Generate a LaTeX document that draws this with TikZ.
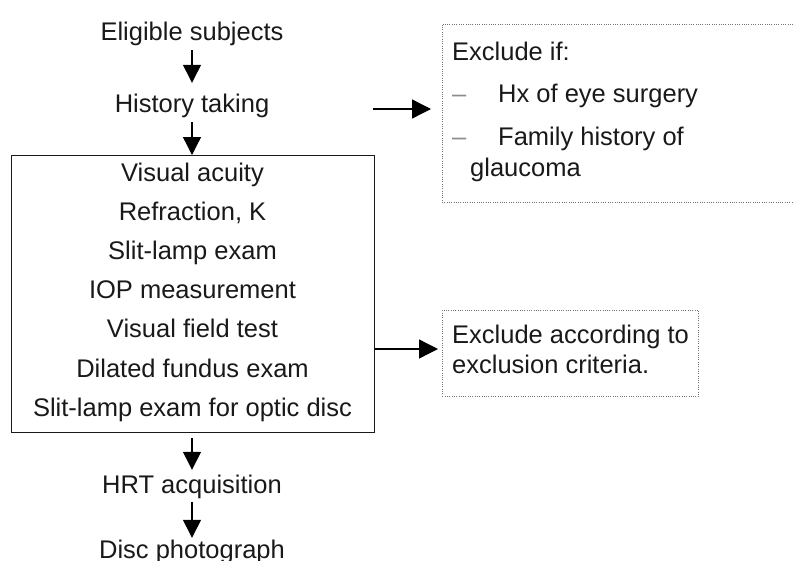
\documentclass[tikz,border=0pt]{standalone}
\usepackage{fontspec}
\setmainfont{Liberation Sans}
\usetikzlibrary{arrows.meta,calc}
\tikzset{
  lbl/.style={inner sep=0pt, text height=18pt, text depth=5pt, font=\fontsize{25.5}{30}\selectfont, text=black!90},
  arr/.style={line width=1.3pt, -{Triangle[length=18pt,width=18pt]}, shorten <=5pt, shorten >=5pt},
  harr/.style={line width=1.3pt, -{Triangle[length=19pt,width=19pt]}},
  dotline/.style={draw=black!55, line width=0.9pt, dash pattern=on 0.9pt off 1.4pt},
  mainbox/.style={draw=black!90, line width=1.4pt, inner sep=0pt},
  dashmark/.style={lbl, text=black!45}
}
\begin{document}
\begin{tikzpicture}[x=1pt,y=-1pt]
\useasboundingbox (0,0) rectangle (793,560);
% left column
\node[lbl, anchor=base] (elig) at (192,40) {Eligible subjects};
\node[lbl, anchor=base] (hist) at (192,112) {History taking};
\node[mainbox, minimum width=363pt, minimum height=277pt, anchor=north west] (box) at (11,155) {};
\foreach \t [count=\i from 0] in {Visual acuity,{Refraction, K},Slit-lamp exam,IOP measurement,Visual field test,Dilated fundus exam,Slit-lamp exam for optic disc}{
  \node[lbl, anchor=base] (m\i) at (192.5,{181+39.2*\i}) {\t};
}
\node[lbl, anchor=base] (hrt) at (192,493) {HRT acquisition};
\node[lbl, anchor=base] (disc) at (192,558) {Disc photograph};
\draw[arr, shorten >=11pt] (elig.south) -- (hist.north);
\draw[arr, shorten >=0pt] (hist.south) -- (hist.south |- box.north);
\draw[arr] (hrt.north |- box.south) -- (hrt.north);
\draw[arr, shorten <=4pt, shorten >=2pt] (hrt.south) -- (disc.north);
% right box 1 (open to the right)
\coordinate (b1tr) at (793,24);
\coordinate (b1tl) at (442,24);
\coordinate (b1bl) at (442,202);
\coordinate (b1br) at (793,202);
\draw[dotline] (b1tr) -- (b1tl) -- (b1bl) -- (b1br);
\node[lbl, anchor=base west] (ex1) at (452,60) {Exclude if:};
\node[dashmark, anchor=base west] (d1) at (452,102) {–};
\node[lbl, anchor=base west] (hx) at (498,102) {Hx of eye surgery};
\node[dashmark, anchor=base west] (d2) at (452,145) {–};
\node[lbl, anchor=base west] (fam) at (498,145) {Family history of};
\node[lbl, anchor=base west] (gl) at (470,176) {glaucoma};
\coordinate (a1) at (373,109);
\draw[harr, shorten >=11pt] (a1) -- (b1tl |- a1);
% right box 2
\node[dotline, minimum width=256pt, minimum height=86pt, anchor=north west, inner sep=0pt] (box2) at (442,310) {};
\node[lbl, anchor=base west] (ex2) at (452,343) {Exclude according to};
\node[lbl, anchor=base west] (ex3) at (452,373) {exclusion criteria.};
\coordinate (a2) at (0,349);
\draw[harr, shorten >=4pt] (box.east |- a2) -- (box2.west |- a2);
\end{tikzpicture}
\end{document}
